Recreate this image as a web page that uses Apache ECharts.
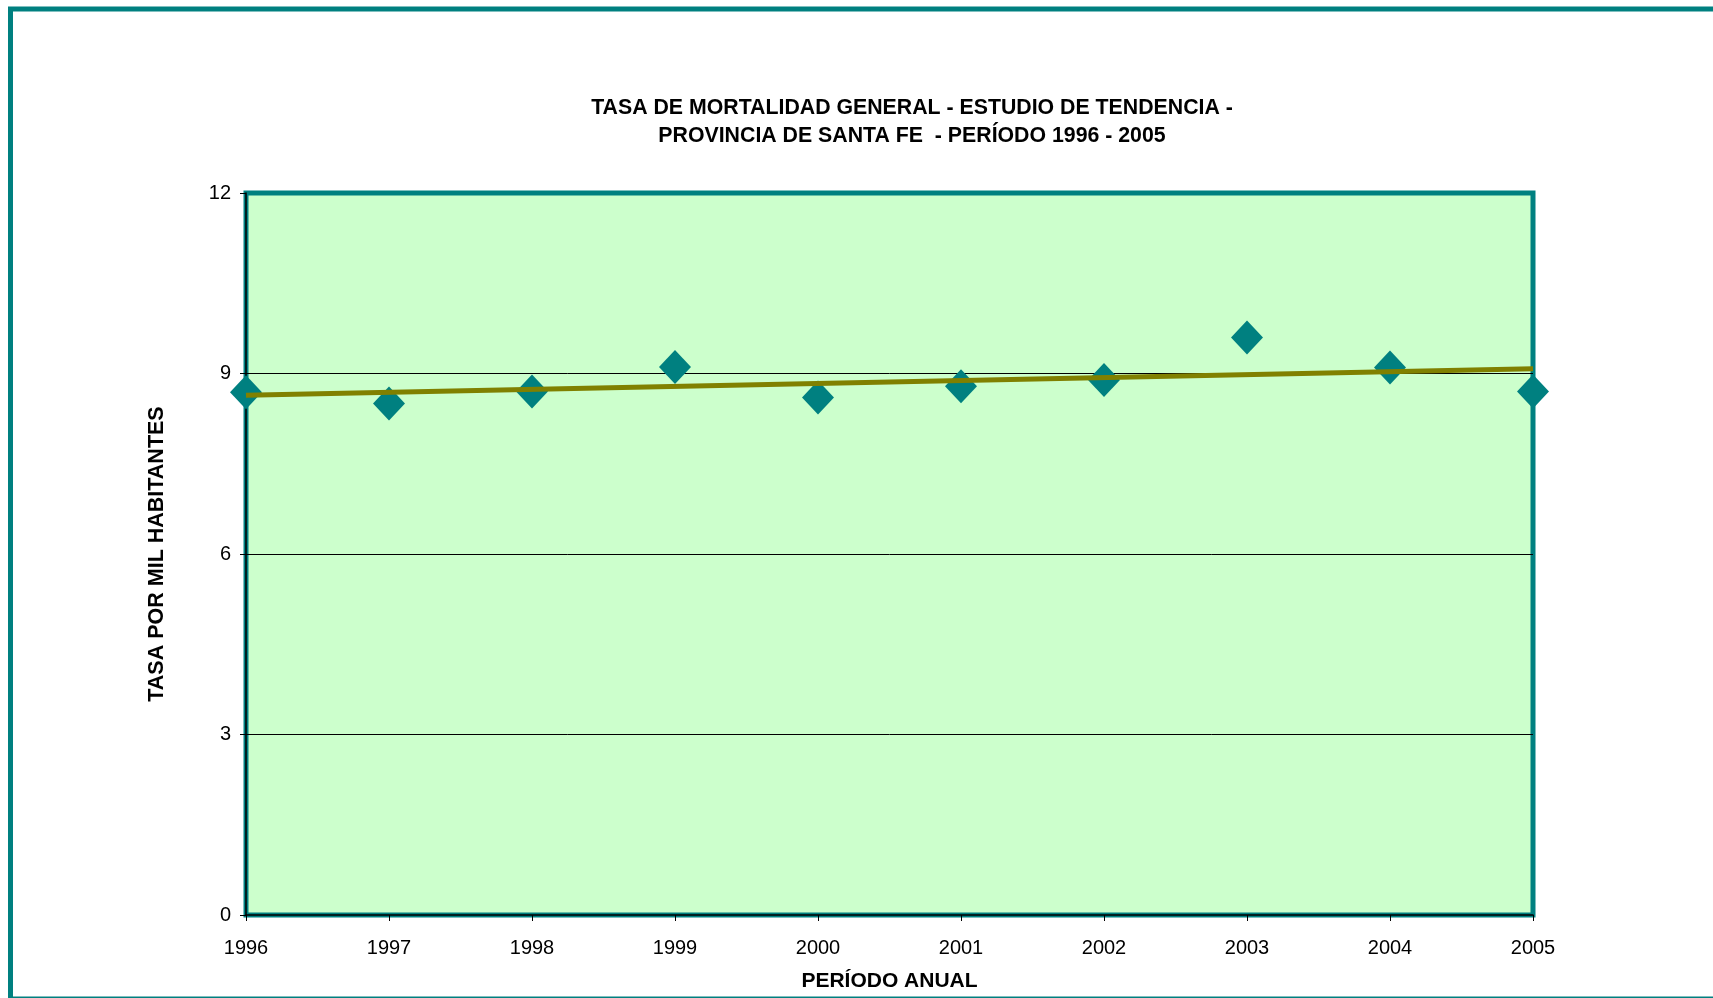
<!DOCTYPE html>
<html>
<head>
<meta charset="utf-8">
<title>Tasa de mortalidad general - Santa Fe</title>
<script src="https://cdn.jsdelivr.net/npm/echarts@6/dist/echarts.min.js"></script>
<style>
  html, body { margin: 0; padding: 0; background: #fff; }
  #chart { width: 1713px; height: 998px; }
</style>
</head>
<body>
<div id="chart"></div>
<script>
// datos
var years = [1996, 1997, 1998, 1999, 2000, 2001, 2002, 2003, 2004, 2005];
var tasas = [8.69, 8.50, 8.70, 9.11, 8.60, 8.79, 8.89, 9.60, 9.10, 8.70];
// linea de tendencia (extremos)
var trendYears = [1996, 2005];
var trendValues = [8.64, 9.08];
var yTicks = [0, 3, 6, 9, 12];

var teal = "#008080";
var font = "Liberation Sans, Arial, sans-serif";

var chart = echarts.init(document.getElementById("chart"));

chart.setOption({
  backgroundColor: "#ffffff",
  animation: false,
  textStyle: { fontFamily: font },
  title: {
    text: "TASA DE MORTALIDAD GENERAL - ESTUDIO DE TENDENCIA -\nPROVINCIA DE SANTA FE  - PERÍODO 1996 - 2005",
    left: 907,
    top: 89,
    textAlign: "center",
    textStyle: {
      fontFamily: font,
      fontSize: 21.3,
      fontWeight: "bold",
      color: "#000",
      lineHeight: 28
    }
  },
  graphic: [{
    type: "rect",
    silent: true,
    z: 100,
    shape: { x: 10.5, y: 9, width: 1760, height: 990 },
    style: { fill: "none", stroke: teal, lineWidth: 5 }
  }],
  grid: {
    left: 246,
    top: 193,
    right: 180,
    bottom: 83,
    outerBoundsMode: "none",
    containLabel: false,
    show: true,
    backgroundColor: "#ccffcc",
    borderColor: teal,
    borderWidth: 5
  },
  xAxis: {
    type: "value",
    min: years[0],
    max: years[years.length - 1],
    interval: 1,
    name: "PERÍODO ANUAL",
    nameLocation: "middle",
    nameGap: 56,
    nameTextStyle: { fontFamily: font, fontSize: 21, fontWeight: "bold", color: "#000" },
    axisLine: { show: true, lineStyle: { color: "#000", width: 1.5 } },
    axisTick: { show: true, length: 6, lineStyle: { color: "#000" } },
    axisLabel: {
      margin: 23,
      fontSize: 20,
      color: "#000",
      formatter: function (v) { return String(v); }
    },
    splitLine: { show: false }
  },
  yAxis: {
    type: "value",
    min: yTicks[0],
    max: yTicks[yTicks.length - 1],
    interval: 3,
    name: "TASA POR MIL HABITANTES",
    nameLocation: "middle",
    nameGap: 78,
    nameTextStyle: { fontFamily: font, fontSize: 21.5, fontWeight: "bold", color: "#000" },
    axisLine: { show: true, lineStyle: { color: "#000", width: 1.5 } },
    axisTick: { show: true, length: 6, lineStyle: { color: "#000" } },
    axisLabel: { margin: 15, fontSize: 20, color: "#000" },
    splitLine: {
      show: true,
      lineStyle: { color: ["transparent", "#000", "#000", "#000", "transparent"], width: 1 }
    }
  },
  series: [
    {
      name: "Tasa",
      type: "scatter",
      clip: false,
      symbol: "diamond",
      symbolSize: [32, 34],
      itemStyle: { color: teal, opacity: 1 },
      data: years.map(function (y, i) { return [y, tasas[i]]; }),
      z: 3
    },
    {
      name: "Tendencia",
      type: "line",
      symbol: "none",
      lineStyle: { color: "#808000", width: 5 },
      data: trendYears.map(function (y, i) { return [y, trendValues[i]]; }),
      z: 4
    }
  ]
});
</script>
</body>
</html>
